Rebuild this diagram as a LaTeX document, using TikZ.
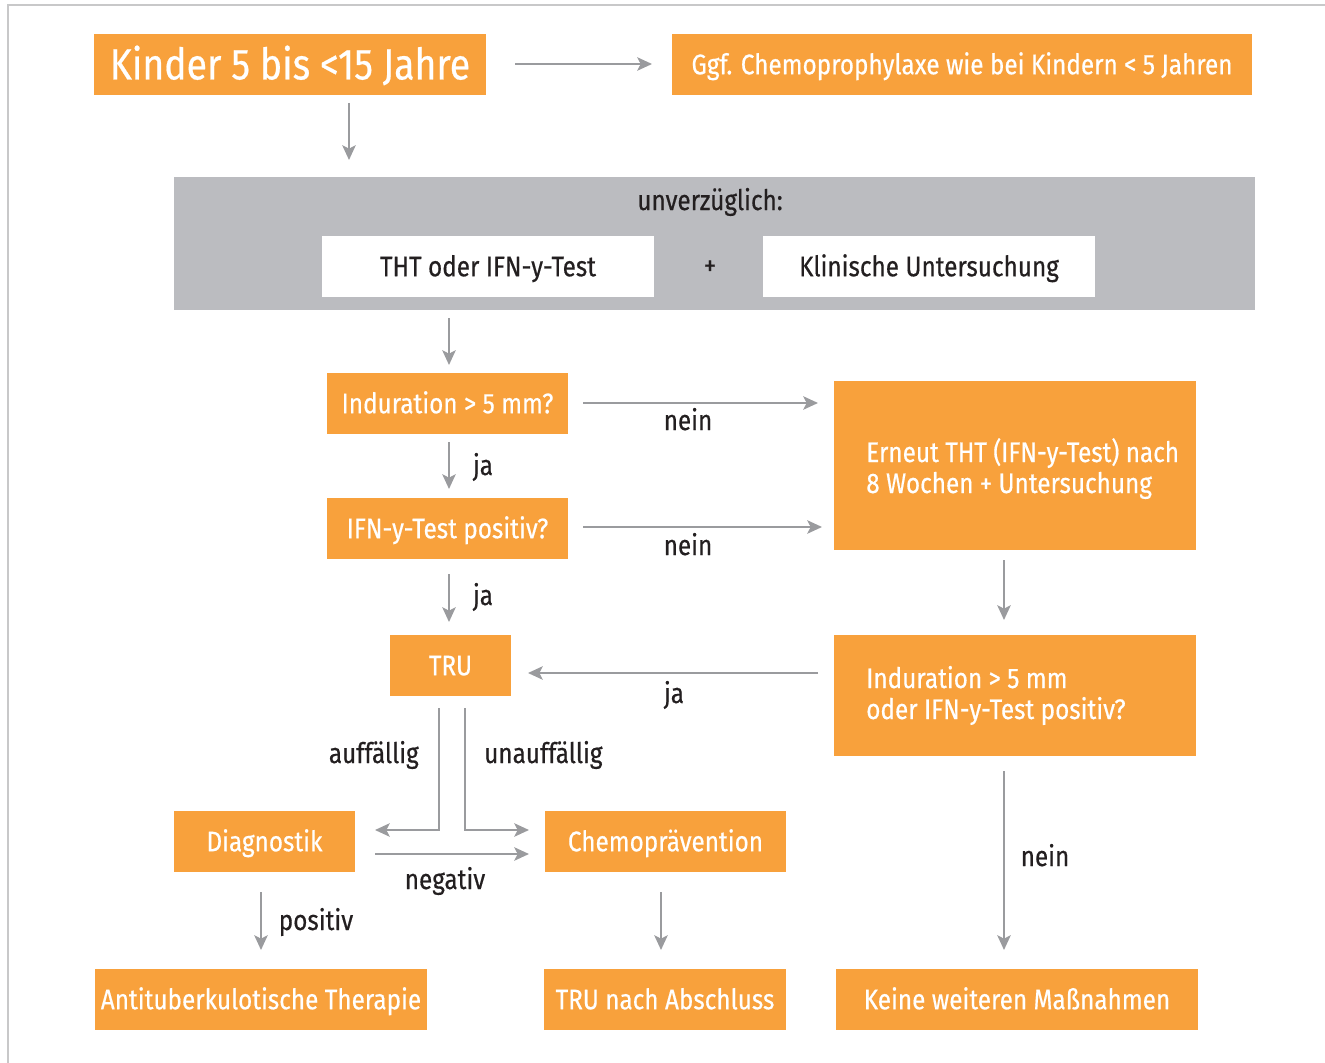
\documentclass[tikz,border=0pt]{standalone}
\usepackage{fontspec}
\setmainfont{Fira Sans}[FakeStretch=0.86,FakeBold=0.5]
\usetikzlibrary{arrows.meta}
\definecolor{boxorange}{HTML}{F8A13C}
\definecolor{panelgray}{HTML}{BBBCC0}
\definecolor{arrowgray}{HTML}{9A9B9E}
\definecolor{ink}{HTML}{231F20}
\definecolor{framegray}{HTML}{C8C8C9}
\begin{document}
\begin{tikzpicture}[x=0.75pt,y=-0.75pt,
  txt/.style={font=\fontsize{21.2}{23.25}\selectfont},
  box/.style={txt,fill=boxorange,draw=none,inner sep=0pt,text=white,
    text height=14.6pt,text depth=0pt,align=center},
  whitebox/.style={box,fill=white,text=ink},
  sz/.style 2 args={minimum width=#1*0.75pt,minimum height=#2*0.75pt},
  boxtext/.style={txt,inner sep=0pt,text=white,anchor=base west,align=left},
  lbl/.style={txt,text=ink,inner sep=0pt,anchor=base},
  arr/.style={draw=arrowgray,line width=1.8pt,-{Stealth[length=11pt,width=10pt,inset=2.5pt]}}]
\useasboundingbox (0,0) rectangle (1325,1063);
% outer frame
\draw[framegray,line width=2.2pt] (8,1063) -- (8,5) -- (1325,5);

% top row
\node[box,sz={392}{61},font=\fontsize{32.6}{36}\selectfont,text height=22.4pt] (kinder) at (290,64.5) {Kinder 5 bis <15 Jahre};
\node[box,sz={580}{61}] (ggf) at (962,64.5) {Ggf. Chemoprophylaxe wie bei Kindern < 5 Jahren};
\coordinate (k1) at (515,64);
\coordinate (k2) at (652,64);
\draw[arr] (k1) -- (k2);

% immediate measures panel
\node[fill=panelgray,inner sep=0pt,sz={1081}{133}] (panel) at (714.5,243.5) {};
\node[lbl] (sofort) at (710,210) {unverzüglich:};
\node[whitebox,sz={332}{61}] (tht) at (488,266.5) {THT oder IFN-y-Test};
\node[whitebox,sz={332}{61}] (klin) at (929,266.5) {Klinische Untersuchung};
\node[lbl] (plus) at (710,275) {+};
\coordinate (d1) at (349,103);
\coordinate (d2) at (349,160);
\draw[arr] (d1) -- (d2);

% decision chain
\node[box,sz={241}{61}] (ind) at (447.5,403.5) {Induration > 5 mm?};
\node[box,sz={241}{61}] (ifn) at (447.5,528.5) {IFN-y-Test positiv?};
\node[box,sz={121}{61}] (tru) at (450.5,665.5) {TRU};
\node[box,sz={362}{169}] (erneut) at (1015,465.5) {};
\node[boxtext] (erneuttxt) at (866,493) {Erneut THT (IFN-y-Test) nach\\8 Wochen + Untersuchung};
\node[box,sz={362}{121}] (ind2) at (1015,695.5) {};
\node[boxtext] (ind2txt) at (866,719) {Induration > 5 mm\\oder IFN-y-Test positiv?};

\draw[arr] (449,318) -- (449,365);
\draw[arr] (449,442) -- (449,489);
\draw[arr] (449,574) -- (449,622);
\node[lbl] (ja1) at (483,475) {ja};
\node[lbl] (ja2) at (483,605) {ja};
\draw[arr] (583,403) -- (818,403);
\node[lbl] (nein1) at (688,430) {nein};
\draw[arr] (583,527) -- (822,527);
\node[lbl] (nein2) at (688,555) {nein};
\draw[arr] (1004,560) -- (1004,620);
\draw[arr] (818,673) -- (528,673);
\node[lbl] (ja3) at (674,703) {ja};

% bottom part
\node[box,sz={181}{61}] (diag) at (264.5,841.5) {Diagnostik};
\node[box,sz={241}{61}] (chemo) at (665.5,841.5) {Chemoprävention};
\node[box,sz={332}{61}] (anti) at (261,999.5) {Antituberkulotische Therapie};
\node[box,sz={242}{61}] (trun) at (665,999.5) {TRU nach Abschluss};
\node[box,sz={362}{61}] (keine) at (1017,999.5) {Keine weiteren Maßnahmen};

\draw[arr] (439,708) -- (439,830) -- (375,830);
\draw[arr] (465,708) -- (465,830) -- (529,830);
\node[lbl,anchor=base east] (auff) at (419,763) {auffällig};
\node[lbl,anchor=base west] (unauff) at (484,763) {unauffällig};
\draw[arr] (375,854) -- (529,854);
\node[lbl] (neg) at (445,889) {negativ};
\draw[arr] (261,892) -- (261,950);
\node[lbl] (pos) at (316,930) {positiv};
\draw[arr] (661,892) -- (661,950);
\draw[arr] (1004,771) -- (1004,950);
\node[lbl] (nein3) at (1045,866) {nein};
\end{tikzpicture}
\end{document}
